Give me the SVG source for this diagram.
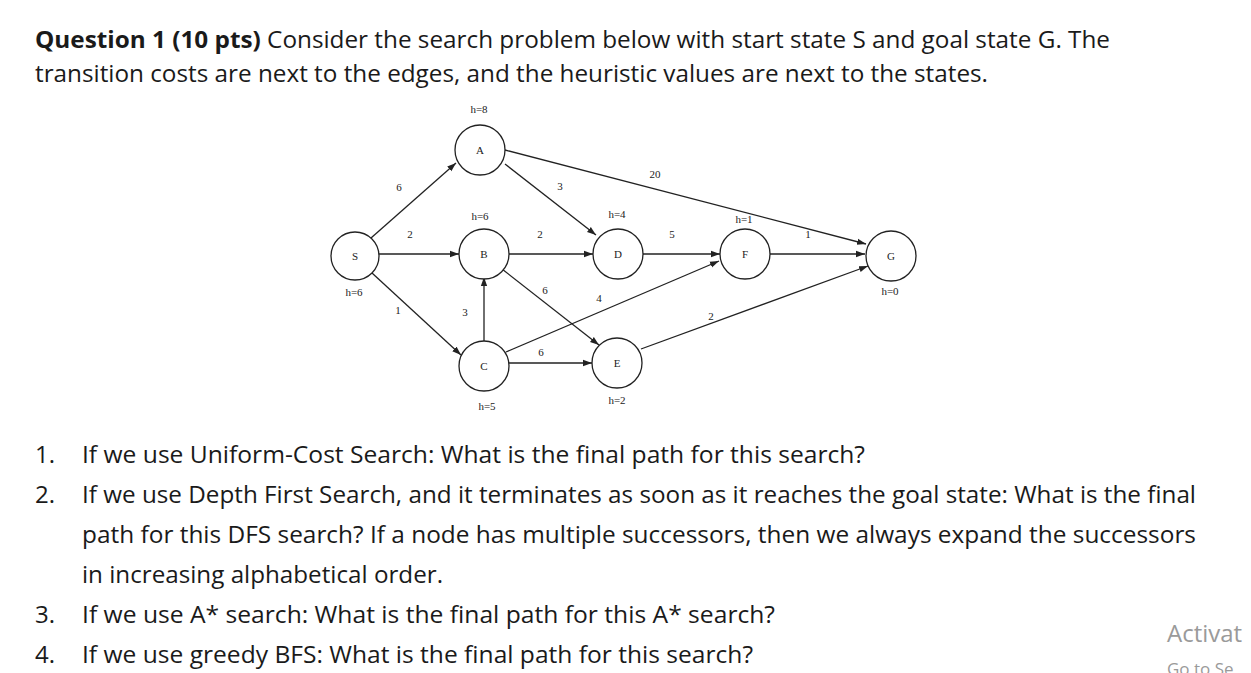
<svg xmlns="http://www.w3.org/2000/svg" width="1251" height="673" viewBox="0 0 1251 673">
<style>
.t{font-family:"Open Sans","Liberation Sans",sans-serif;font-size:24px;fill:#1a1a1a}
.n{fill:#fff;stroke:#222;stroke-width:1.3}
.g{font-family:"Liberation Serif",serif;font-size:11px;fill:#222;text-anchor:middle}
.e{stroke:#222;stroke-width:1.3;fill:none;marker-end:url(#ar)}
</style>
<defs><marker id="ar" viewBox="0 0 10 10" refX="10" refY="5" markerWidth="9" markerHeight="9" markerUnits="userSpaceOnUse" orient="auto"><path d="M0,1.5L10,5L0,8.5z" fill="#222"/></marker></defs>
<rect width="1251" height="673" fill="#fff"/>
<text class="t" x="35" y="48" textLength="1075" lengthAdjust="spacingAndGlyphs"><tspan font-weight="bold">Question 1 (10 pts)</tspan> Consider the search problem below with start state S and goal state G. The</text>
<text class="t" x="35" y="82" textLength="953" lengthAdjust="spacingAndGlyphs">transition costs are next to the edges, and the heuristic values are next to the states.</text>
<g id="connectors">
<line class="e" x1="371" y1="238" x2="456" y2="163"/>
<line class="e" x1="379" y1="254" x2="459" y2="254"/>
<line class="e" x1="372" y1="273" x2="461" y2="355"/>
<line class="e" x1="505" y1="164" x2="596" y2="235"/>
<line class="e" x1="505" y1="150" x2="866" y2="244"/>
<line class="e" x1="509" y1="254" x2="593" y2="254"/>
<line class="e" x1="502" y1="269" x2="599" y2="345"/>
<line class="e" x1="484" y1="341" x2="484" y2="277"/>
<line class="e" x1="506" y1="352" x2="719" y2="261"/>
<line class="e" x1="509" y1="363" x2="592" y2="363"/>
<line class="e" x1="642" y1="254" x2="720" y2="254"/>
<line class="e" x1="769" y1="254" x2="865" y2="254"/>
<line class="e" x1="641" y1="349" x2="868" y2="266"/>
</g>
<g id="S"><circle class="n" cx="355" cy="256" r="24"/><text class="g" x="355" y="260">S</text><text class="g" x="354" y="296">h=6</text></g>
<g id="A"><circle class="n" cx="480" cy="150" r="25"/><text class="g" x="480" y="154">A</text><text class="g" x="479" y="113">h=8</text></g>
<g id="B"><circle class="n" cx="484" cy="254" r="25"/><text class="g" x="484" y="258">B</text><text class="g" x="480" y="220">h=6</text></g>
<g id="D"><circle class="n" cx="618" cy="254" r="25"/><text class="g" x="618" y="258">D</text><text class="g" x="617" y="218">h=4</text></g>
<g id="F"><circle class="n" cx="745" cy="254" r="25"/><text class="g" x="745" y="258">F</text><text class="g" x="744" y="223">h=1</text></g>
<g id="G"><circle class="n" cx="891" cy="256" r="25"/><text class="g" x="891" y="260">G</text><text class="g" x="890" y="295">h=0</text></g>
<g id="C"><circle class="n" cx="484" cy="366" r="25"/><text class="g" x="484" y="370">C</text><text class="g" x="487" y="410">h=5</text></g>
<g id="E"><circle class="n" cx="617" cy="363" r="25"/><text class="g" x="617" y="367">E</text><text class="g" x="617" y="404">h=2</text></g>
<g id="edge-labels">
<text class="g" x="399" y="191">6</text><text class="g" x="560" y="190">3</text><text class="g" x="655" y="178">20</text>
<text class="g" x="410" y="238">2</text><text class="g" x="540" y="238">2</text><text class="g" x="672" y="238">5</text><text class="g" x="808" y="238">1</text>
<text class="g" x="545" y="294">6</text><text class="g" x="599" y="302">4</text><text class="g" x="465" y="316">3</text><text class="g" x="398" y="314">1</text>
<text class="g" x="541" y="356">6</text><text class="g" x="711" y="320">2</text>
</g>
<text class="t" x="35" y="463">1.</text><text class="t" x="82" y="463" textLength="783" lengthAdjust="spacingAndGlyphs">If we use Uniform-Cost Search: What is the final path for this search?</text>
<text class="t" x="35" y="503">2.</text><text class="t" x="82" y="503" textLength="1114" lengthAdjust="spacingAndGlyphs">If we use Depth First Search, and it terminates as soon as it reaches the goal state: What is the final</text>
<text class="t" x="82" y="543" textLength="1114" lengthAdjust="spacingAndGlyphs">path for this DFS search? If a node has multiple successors, then we always expand the successors</text>
<text class="t" x="82" y="583" textLength="361" lengthAdjust="spacingAndGlyphs">in increasing alphabetical order.</text>
<text class="t" x="35" y="623">3.</text><text class="t" x="82" y="623" textLength="693" lengthAdjust="spacingAndGlyphs">If we use A* search: What is the final path for this A* search?</text>
<text class="t" x="35" y="663">4.</text><text class="t" x="82" y="663" textLength="671" lengthAdjust="spacingAndGlyphs">If we use greedy BFS: What is the final path for this search?</text>
<text x="1167" y="642" font-family="'Open Sans','Liberation Sans',sans-serif" font-size="24" fill="#9a9a9a">Activat</text>
<text x="1167" y="675" font-family="'Open Sans','Liberation Sans',sans-serif" font-size="17" fill="#9a9a9a">Go to Se</text>
</svg>
